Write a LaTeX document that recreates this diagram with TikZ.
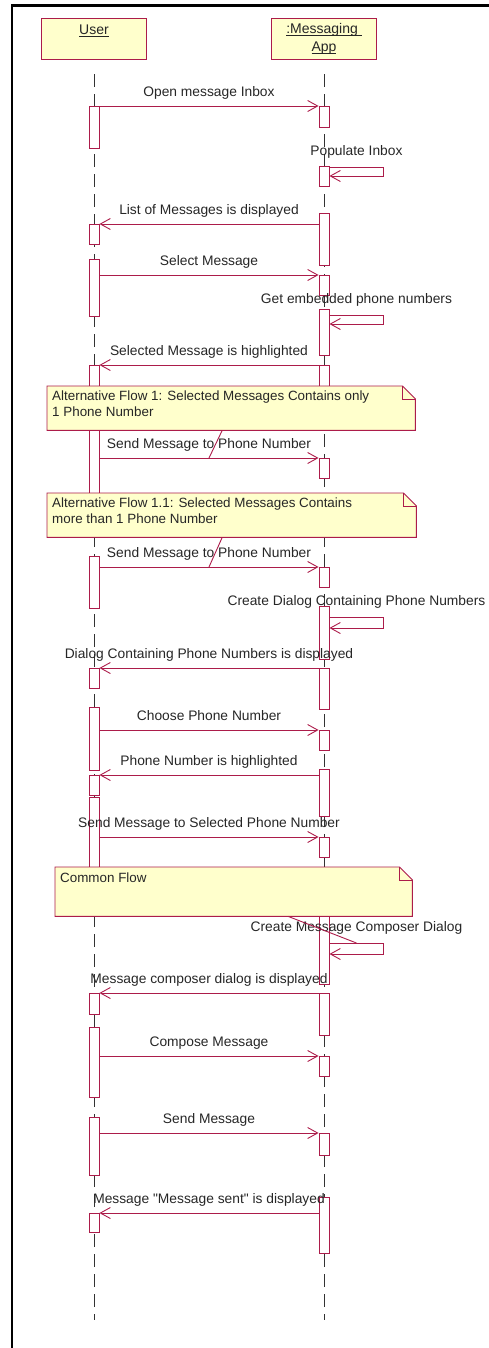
\documentclass[tikz,border=0pt]{standalone}
\usepackage{fontspec}
\setmainfont{Liberation Sans}
\usetikzlibrary{arrows.meta}
\usepackage{xcolor}
\definecolor{umlred}{RGB}{172,28,74}
\definecolor{notefill}{RGB}{255,255,204}
\definecolor{lifegray}{RGB}{50,50,50}
\newcommand{\objname}[1]{\underline{\raisebox{0pt}[\height][0pt]{#1}}}

\begin{document}
\begin{tikzpicture}[x=1pt, y=1pt,
        objbox/.style={rectangle, draw=umlred, fill=notefill, line width=0.9pt, minimum width=105pt, minimum height=41pt, inner sep=0pt, align=center, text=black!85, font=\fontsize{14}{18}\selectfont},
        lifeline/.style={draw=lifegray, line width=0.9pt, dash pattern=on 13pt off 7pt},
        bar/.style={rectangle, draw=umlred, fill=white, line width=0.9pt, minimum width=10pt, inner sep=0pt, anchor=north},
        msg/.style={draw=umlred, line width=0.9pt, -{Straight Barb[length=10pt, width=11pt]}},
        msglabel/.style={above=6.5pt, inner sep=0pt, text depth=2.8pt, text=black!85, font=\fontsize{13.8}{15}\selectfont},
        selflabel/.style={msglabel, yshift=1.7pt},
        notebox/.style={rectangle, fill=notefill, inner sep=0pt, anchor=north west},
        noteline/.style={draw=umlred, line width=0.9pt},
        notetext/.style={anchor=north west, align=left, inner sep=0pt, text=black!85, font=\fontsize{13.4}{16}\selectfont}
    ]
        \useasboundingbox (0,0) rectangle (489,-1348);

        % Frame
        \draw[line width=2.2pt] (12,-1348) -- (12,-5.5) -- (489,-5.5);

        % Objects
        \node[objbox] (user) at (94,-38.5) {\objname{User}\\\mbox{}};
        \node[objbox] (app) at (324,-38.5) {\objname{:Messaging\ }\\\objname{App}};

        % Lifelines
        \coordinate (userend) at (94,-1320);
        \coordinate (append) at (324,-1320);
        \draw[lifeline] ([yshift=-15pt]user.south) -- (userend);
        \draw[lifeline] ([yshift=-15pt]app.south) -- (append);

        % User activations
        \node[bar, minimum height=42pt] (u1) at (94,-106) {};
        \node[bar, minimum height=20pt] (u2) at (94,-224) {};
        \node[bar, minimum height=57pt] (u3) at (94,-259) {};
        \node[bar, minimum height=135pt] (u4) at (94,-365) {};
        \node[bar, minimum height=52pt] (u5) at (94,-556) {};
        \node[bar, minimum height=20pt] (u6) at (94,-668) {};
        \node[bar, minimum height=63pt] (u7) at (94,-707) {};
        \node[bar, minimum height=20pt] (u8) at (94,-775) {};
        \node[bar, minimum height=100pt] (u9) at (94,-797) {};
        \node[bar, minimum height=21pt] (u10) at (94,-993) {};
        \node[bar, minimum height=70pt] (u11) at (94,-1027) {};
        \node[bar, minimum height=58pt] (u12) at (94,-1117) {};
        \node[bar, minimum height=19pt] (u13) at (94,-1213) {};

        % App activations
        \node[bar, minimum height=21pt] (a1) at (324,-106) {};
        \node[bar, minimum height=20pt] (a2) at (324,-166) {};
        \node[bar, minimum height=52pt] (a3) at (324,-213) {};
        \node[bar, minimum height=20pt] (a4) at (324,-275) {};
        \node[bar, minimum height=46pt] (a5) at (324,-309) {};
        \node[bar, minimum height=30pt] (a6) at (324,-365) {};
        \node[bar, minimum height=20pt] (a7) at (324,-458) {};
        \node[bar, minimum height=20pt] (a8) at (324,-567) {};
        \node[bar, minimum height=53pt] (a9) at (324,-606) {};
        \node[bar, minimum height=41pt] (a10) at (324,-668) {};
        \node[bar, minimum height=20pt] (a11) at (324,-730) {};
        \node[bar, minimum height=47pt] (a12) at (324,-769) {};
        \node[bar, minimum height=20pt] (a13) at (324,-837) {};
        \node[bar, minimum height=79pt] (a14) at (324,-905) {};
        \node[bar, minimum height=42pt] (a15) at (324,-993) {};
        \node[bar, minimum height=20pt] (a16) at (324,-1056) {};
        \node[bar, minimum height=22pt] (a17) at (324,-1133) {};
        \node[bar, minimum height=56pt] (a18) at (324,-1197) {};

        % Messages
        \draw[msg] (u1.north east) -- node[msglabel] {Open message Inbox} (a1.north west);
        \draw[msg] ([yshift=-1pt]a2.north east) -- node[selflabel] {Populate Inbox} ++(54,0) -- ++(0,-9) -- ++(-54,0);
        \draw[msg] (a3.west |- u2.north) -- node[msglabel] {List of Messages is displayed} (u2.north east);
        \draw[msg] (u3.east |- a4.north) -- node[msglabel] {Select Message} (a4.north west);
        \draw[msg] ([yshift=-6pt]a5.north east) -- node[selflabel] {Get embedded phone numbers} ++(54,0) -- ++(0,-9) -- ++(-54,0);
        \draw[msg] (a6.north west) -- node[msglabel] {Selected Message is highlighted} (u4.north east);
        \draw[msg] (u4.east |- a7.north) -- node[msglabel] {Send Message to Phone Number} coordinate[pos=0.5] (s1mid) (a7.north west);
        \draw[msg] (u5.east |- a8.north) -- node[msglabel] {Send Message to Phone Number} coordinate[pos=0.5] (s2mid) (a8.north west);
        \draw[msg] ([yshift=-11pt]a9.north east) -- node[selflabel] {Create Dialog Containing Phone Numbers} ++(54,0) -- ++(0,-11) -- ++(-54,0);
        \draw[msg] (a10.north west) -- node[msglabel] {Dialog Containing Phone Numbers is displayed} (u6.north east);
        \draw[msg] (u7.east |- a11.north) -- node[msglabel] {Choose Phone Number} (a11.north west);
        \draw[msg] (a12.west |- u8.north) -- node[msglabel] {Phone Number is highlighted} (u8.north east);
        \draw[msg] (u9.east |- a13.north) -- node[msglabel] {Send Message to Selected Phone Number} (a13.north west);
        \draw[msg] ([yshift=-38pt]a14.north east) -- node[selflabel] {Create Message Composer Dialog} coordinate[pos=0.5] (c1mid) ++(54,0) -- ++(0,-11) -- ++(-54,0);
        \draw[msg] (a15.north west) -- node[msglabel] {Message composer dialog is displayed} (u10.north east);
        \draw[msg] (u11.east |- a16.north) -- node[msglabel] {Compose Message} (a16.north west);
        \draw[msg] (u12.east |- a17.north) -- node[msglabel] {Send Message} (a17.north west);
        \draw[msg] (a18.west |- u13.north) -- node[msglabel] {Message \textquotedbl Message sent\textquotedbl\ is displayed} (u13.north east);

        % Notes
        \node[notebox, minimum width=368pt, minimum height=44pt] (n1) at (47,-386) {};
        \fill[white] ([xshift=-13pt]n1.north east) -- (n1.north east) -- ([yshift=-13pt]n1.north east) -- cycle;
        \draw[noteline] (n1.north west) -- ([xshift=-13pt]n1.north east) -- ([yshift=-13pt]n1.north east) -- (n1.south east) -- (n1.south west) -- cycle;
        \draw[noteline] ([xshift=-13pt]n1.north east) -- ++(0,-13) -- ([yshift=-13pt]n1.north east);
        \node[notetext] (t1) at ([shift={(5pt,-5pt)}]n1.north west) {Alternative Flow 1: Selected Messages Contains only\\1 Phone Number};
        \draw[noteline] ([xshift=-9pt]n1.south) -- (s1mid);

        \node[notebox, minimum width=369pt, minimum height=44pt] (n2) at (47,-493) {};
        \fill[white] ([xshift=-13pt]n2.north east) -- (n2.north east) -- ([yshift=-13pt]n2.north east) -- cycle;
        \draw[noteline] (n2.north west) -- ([xshift=-13pt]n2.north east) -- ([yshift=-13pt]n2.north east) -- (n2.south east) -- (n2.south west) -- cycle;
        \draw[noteline] ([xshift=-13pt]n2.north east) -- ++(0,-13) -- ([yshift=-13pt]n2.north east);
        \node[notetext] (t2) at ([shift={(5pt,-5pt)}]n2.north west) {Alternative Flow 1.1: Selected Messages Contains\\more than 1 Phone Number};
        \draw[noteline] ([xshift=-9.5pt]n2.south) -- (s2mid);

        \node[notebox, minimum width=357pt, minimum height=49pt] (n3) at (55,-867) {};
        \fill[white] ([xshift=-13pt]n3.north east) -- (n3.north east) -- ([yshift=-13pt]n3.north east) -- cycle;
        \draw[noteline] (n3.north west) -- ([xshift=-13pt]n3.north east) -- ([yshift=-13pt]n3.north east) -- (n3.south east) -- (n3.south west) -- cycle;
        \draw[noteline] ([xshift=-13pt]n3.north east) -- ++(0,-13) -- ([yshift=-13pt]n3.north east);
        \node[notetext] (t3) at ([shift={(5pt,-6pt)}]n3.north west) {Common Flow};
        \draw[noteline] ([xshift=54.5pt]n3.south) -- (c1mid);
    \end{tikzpicture}
\end{document}
